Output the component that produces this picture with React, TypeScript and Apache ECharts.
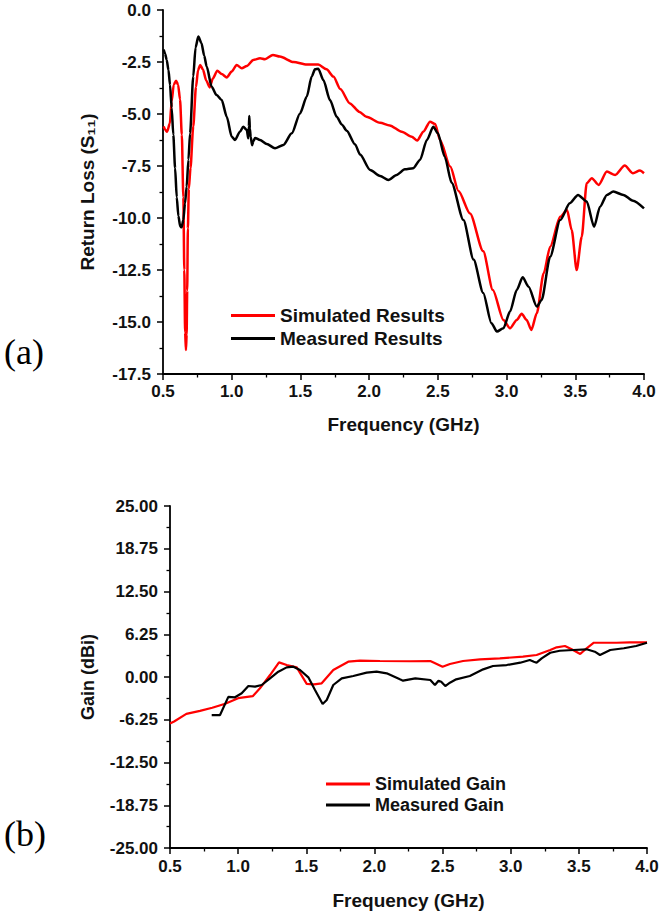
import React, { useEffect, useRef } from "react";
import * as echarts from "echarts";

// Return loss (S11), dB vs frequency (GHz)
const simulatedRL: [number, number][] = [
  [0.505, -5.6], [0.515, -5.75], [0.53, -5.85], [0.55, -5.45], [0.563, -4.4], [0.578, -3.6],
  [0.595, -3.4], [0.61, -3.6], [0.624, -4.3], [0.637, -6.0], [0.648, -9.0], [0.655, -12.5],
  [0.661, -15.5], [0.667, -16.35], [0.672, -15.6], [0.676, -13.5], [0.681, -10.5], [0.688, -8.6],
  [0.7, -7.6], [0.72, -5.6], [0.74, -3.7], [0.755, -2.9], [0.77, -2.64], [0.79, -2.85],
  [0.815, -3.4], [0.84, -3.72], [0.862, -3.3], [0.895, -2.92], [0.927, -3.08], [0.964, -3.24],
  [1.0, -2.96], [1.036, -2.64], [1.073, -2.8], [1.11, -2.69], [1.157, -2.4], [1.206, -2.32],
  [1.242, -2.37], [1.3, -2.16], [1.35, -2.24], [1.45, -2.5], [1.546, -2.62], [1.63, -2.62],
  [1.69, -2.85], [1.74, -3.2], [1.79, -3.8], [1.86, -4.49], [1.93, -4.9], [1.98, -5.13],
  [2.08, -5.42], [2.15, -5.55], [2.237, -5.85], [2.31, -6.09], [2.35, -6.28], [2.394, -5.85],
  [2.443, -5.37], [2.48, -5.48], [2.516, -6.25], [2.59, -7.53], [2.65, -8.7], [2.734, -9.78],
  [2.83, -11.6], [2.9, -13.46], [2.977, -14.9], [3.025, -15.3], [3.074, -14.9], [3.11, -14.6],
  [3.146, -14.9], [3.18, -15.38], [3.22, -14.58], [3.27, -12.66], [3.317, -11.38], [3.39, -9.94],
  [3.44, -9.62], [3.474, -10.58], [3.51, -12.5], [3.547, -10.9], [3.583, -8.33], [3.62, -8.09],
  [3.67, -8.41], [3.73, -7.77], [3.79, -7.93], [3.86, -7.48], [3.92, -7.85], [3.97, -7.72],
  [4.0, -7.85],
];

const measuredRL: [number, number][] = [
  [0.505, -1.9], [0.515, -2.1], [0.527, -2.4], [0.54, -2.9], [0.551, -3.6], [0.563, -4.7],
  [0.575, -6.0], [0.588, -7.6], [0.6, -9.0], [0.612, -9.9], [0.625, -10.4], [0.635, -10.45],
  [0.648, -10.1], [0.66, -9.3], [0.672, -8.5], [0.685, -7.2], [0.697, -5.93], [0.72, -3.2],
  [0.737, -1.8], [0.757, -1.28], [0.78, -1.6], [0.8, -2.2], [0.818, -2.72], [0.854, -3.69],
  [0.89, -4.09], [0.927, -4.33], [0.964, -5.13], [1.0, -6.09], [1.024, -6.25], [1.06, -5.85],
  [1.084, -5.61], [1.11, -5.77], [1.12, -6.17], [1.125, -5.6], [1.128, -5.1], [1.132, -5.7],
  [1.138, -6.09], [1.148, -6.5], [1.158, -6.3], [1.17, -6.15], [1.206, -6.25], [1.255, -6.44],
  [1.315, -6.65], [1.376, -6.49], [1.437, -5.93], [1.497, -4.97], [1.546, -4.17], [1.582, -3.2],
  [1.606, -2.85], [1.63, -2.82], [1.667, -3.37], [1.715, -4.33], [1.764, -5.13], [1.8, -5.5],
  [1.837, -5.8], [1.897, -6.45], [1.934, -6.95], [2.007, -7.69], [2.08, -7.98], [2.14, -8.17],
  [2.2, -7.93], [2.26, -7.66], [2.32, -7.61], [2.37, -7.21], [2.42, -6.25], [2.467, -5.61],
  [2.5, -5.93], [2.55, -7.05], [2.6, -8.3], [2.686, -10.1], [2.76, -12.0], [2.83, -13.6],
  [2.89, -15.06], [2.93, -15.46], [2.977, -15.3], [3.025, -14.5], [3.074, -13.46], [3.117, -12.85],
  [3.16, -13.3], [3.22, -14.26], [3.255, -13.94], [3.317, -11.86], [3.39, -10.1], [3.46, -9.29],
  [3.52, -8.89], [3.583, -9.21], [3.637, -10.42], [3.68, -9.46], [3.73, -8.89], [3.777, -8.73],
  [3.85, -8.89], [3.92, -9.17], [4.0, -9.54],
];

// Gain, dBi vs frequency (GHz)
const simulatedGain: [number, number][] = [
  [0.5, -6.8], [0.53, -6.5], [0.62, -5.4], [0.72, -4.95], [0.81, -4.5], [0.905, -3.9],
  [1.0, -3.1], [1.107, -2.8], [1.16, -1.66], [1.234, 0.29], [1.3, 2.14], [1.356, 1.75],
  [1.43, 1.41], [1.503, -1.0], [1.557, -1.07], [1.613, -0.92], [1.698, 1.02], [1.808, 2.24],
  [1.894, 2.38], [2.04, 2.34], [2.26, 2.3], [2.41, 2.34], [2.5, 1.5], [2.554, 1.9],
  [2.65, 2.34], [2.775, 2.59], [2.92, 2.73], [3.09, 2.97], [3.19, 3.22], [3.29, 3.95],
  [3.337, 4.34], [3.398, 4.53], [3.447, 4.05], [3.51, 3.36], [3.557, 4.2], [3.61, 5.01],
  [3.777, 5.01], [3.875, 5.07], [4.0, 5.05],
];

const measuredGain: [number, number][] = [
  [0.806, -5.56], [0.867, -5.56], [0.928, -2.9], [0.977, -2.97], [1.026, -2.38], [1.075, -1.32],
  [1.124, -1.41], [1.173, -1.17], [1.234, -0.19], [1.295, 0.78], [1.356, 1.41], [1.405, 1.51],
  [1.454, 1.02], [1.515, -0.05], [1.564, -1.9], [1.62, -3.95], [1.65, -3.36], [1.698, -1.17],
  [1.76, -0.19], [1.845, 0.15], [1.943, 0.63], [2.016, 0.78], [2.09, 0.54], [2.187, -0.34],
  [2.21, -0.54], [2.3, -0.19], [2.41, -0.44], [2.444, -1.17], [2.47, -0.54], [2.49, -0.69],
  [2.52, -1.32], [2.554, -0.83], [2.6, -0.34], [2.7, 0.15], [2.798, 1.12], [2.87, 1.61],
  [2.97, 1.75], [3.07, 2.09], [3.14, 2.49], [3.17, 2.24], [3.19, 2.09], [3.227, 2.73],
  [3.29, 3.55], [3.36, 3.84], [3.46, 3.95], [3.557, 4.05], [3.617, 3.7], [3.655, 3.22],
  [3.73, 3.95], [3.83, 4.2], [3.92, 4.53], [4.0, 5.0],
];

const seriesNamesA = ["Simulated Results", "Measured Results"];
const seriesNamesB = ["Simulated Gain", "Measured Gain"];

const FONT = "'Liberation Sans', Arial, 'DejaVu Sans', sans-serif";
const TEXT = "#111";

function axisBase(labelMargin: number, decimals: number, nameSize: number) {
  return {
    type: "value" as const,
    axisLine: { show: true, onZero: false, lineStyle: { color: "#000", width: 1.8 } },
    axisTick: { show: true, inside: false, length: 6, lineStyle: { color: "#000", width: 1.5 } },
    minorTick: { show: true, splitNumber: 2, length: 3.5, lineStyle: { color: "#000", width: 1.3 } },
    splitLine: { show: false },
    minorSplitLine: { show: false },
    axisLabel: {
      color: TEXT,
      fontFamily: FONT,
      fontWeight: "bold" as const,
      fontSize: 17,
      margin: labelMargin,
      showMinLabel: true,
      showMaxLabel: true,
      formatter: (v: number) => v.toFixed(decimals),
    },
    nameLocation: "middle" as const,
    nameTextStyle: { color: TEXT, fontFamily: FONT, fontWeight: "bold" as const, fontSize: nameSize },
  };
}

export default function App() {
  const ref = useRef<HTMLDivElement>(null);

  useEffect(() => {
    if (!ref.current) return;
    const chart = echarts.init(ref.current, undefined, { renderer: "svg" });
    chart.setOption({
      animation: false,
      backgroundColor: "#fff",
      grid: [
        { left: 163, top: 10, width: 481, height: 364 },
        { left: 170, top: 506, width: 477, height: 342 },
      ],
      xAxis: [
        {
          ...axisBase(9, 1, 19),
          gridIndex: 0,
          min: 0.5,
          max: 4.0,
          interval: 0.5,
          name: "Frequency (GHz)",
          nameGap: 41,
        },
        {
          ...axisBase(10, 1, 19),
          gridIndex: 1,
          min: 0.5,
          max: 4.0,
          interval: 0.5,
          name: "Frequency (GHz)",
          nameGap: 43,
        },
      ],
      yAxis: [
        {
          ...axisBase(12, 1, 19),
          gridIndex: 0,
          min: -17.5,
          max: 0,
          interval: 2.5,
          name: "Return Loss (S\u2081\u2081)",
          nameGap: 66,
        },
        {
          ...axisBase(12, 2, 18),
          gridIndex: 1,
          min: -25,
          max: 25,
          interval: 6.25,
          name: "Gain (dBi)",
          nameGap: 73,
        },
      ],
      legend: [
        {
          data: seriesNamesA,
          orient: "vertical",
          left: 226,
          top: 301,
          itemGap: 4,
          itemWidth: 44,
          itemHeight: 3,
          icon: "rect",
          textStyle: { color: TEXT, fontFamily: FONT, fontWeight: "bold", fontSize: 19 },
        },
        {
          data: seriesNamesB,
          orient: "vertical",
          left: 321,
          top: 770,
          itemGap: 3,
          itemWidth: 44,
          itemHeight: 3,
          icon: "rect",
          textStyle: { color: TEXT, fontFamily: FONT, fontWeight: "bold", fontSize: 18 },
        },
      ],
      series: [
        {
          name: seriesNamesA[0],
          type: "line",
          xAxisIndex: 0,
          yAxisIndex: 0,
          data: simulatedRL,
          symbol: "none",
          smooth: 0.25,
          smoothMonotone: "x",
          color: "#ff0000",
          lineStyle: { color: "#ff0000", width: 2.5 },
        },
        {
          name: seriesNamesA[1],
          type: "line",
          xAxisIndex: 0,
          yAxisIndex: 0,
          data: measuredRL,
          symbol: "none",
          smooth: 0.25,
          smoothMonotone: "x",
          color: "#000000",
          lineStyle: { color: "#000000", width: 2.5 },
        },
        {
          name: seriesNamesB[0],
          type: "line",
          xAxisIndex: 1,
          yAxisIndex: 1,
          data: simulatedGain,
          symbol: "none",
          color: "#ff0000",
          lineStyle: { color: "#ff0000", width: 2.2 },
        },
        {
          name: seriesNamesB[1],
          type: "line",
          xAxisIndex: 1,
          yAxisIndex: 1,
          data: measuredGain,
          symbol: "none",
          color: "#000000",
          lineStyle: { color: "#000000", width: 2.2 },
        },
      ],
      graphic: [
        {
          type: "text",
          left: 4,
          top: 334,
          style: {
            text: "(a)",
            font: "36px 'Liberation Serif', 'Times New Roman', serif",
            fill: "#000",
          },
        },
        {
          type: "text",
          left: 4,
          top: 816,
          style: {
            text: "(b)",
            font: "36px 'Liberation Serif', 'Times New Roman', serif",
            fill: "#000",
          },
        },
      ],
    });
    return () => chart.dispose();
  }, []);

  return (
    <div
      ref={ref}
      style={{ position: "absolute", left: 0, top: 0, width: 666, height: 915, background: "#fff" }}
    />
  );
}
